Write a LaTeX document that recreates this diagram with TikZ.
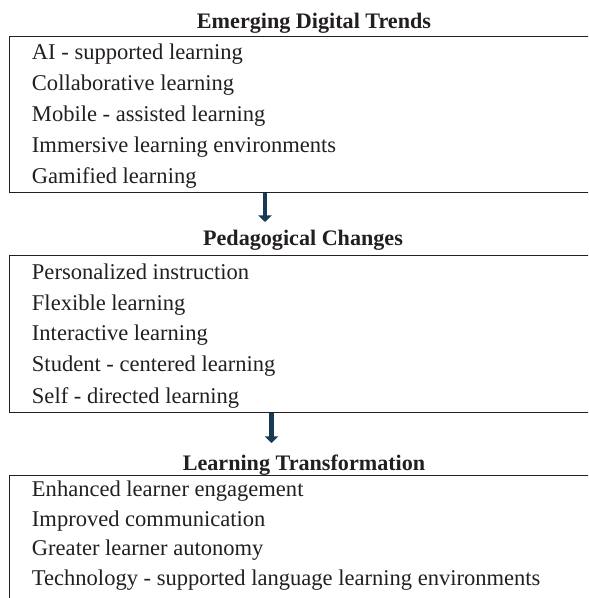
\documentclass[tikz,border=0pt]{standalone}
\usepackage{fontspec}
\setmainfont{Liberation Serif}
\usetikzlibrary{arrows.meta}
\definecolor{inkc}{HTML}{231F20}
\definecolor{navy}{HTML}{173A55}
\tikzset{
  boxline/.style={draw=inkc, line width=0.95pt},
  itemtxt/.style={anchor=base west, inner sep=0pt, text=inkc, font=\fontsize{16.9}{20}\selectfont},
  titletxt/.style={anchor=base, inner sep=0pt, text=inkc, font=\fontsize{16.6}{20}\selectfont\bfseries},
  blockarrow/.style={draw=navy, line width=3.6pt, -{Triangle[width=10pt,length=5pt]}},
}
\begin{document}
\begin{tikzpicture}[x=0.75pt,y=-0.75pt]
\clip (0,0) rectangle (588,598);
\fill[white] (0,0) rectangle (588,598);

% Box 1
\node[titletxt] (t1) at (314,28.3) {Emerging Digital Trends};
\draw[boxline] (620,36.7) -- (9.3,36.7) -- (9.3,192.3) -- (620,192.3);
\node[itemtxt] (b1a) at (31.7,60) {AI - supported learning};
\node[itemtxt] (b1b) at (31.7,90.8) {Collaborative learning};
\node[itemtxt] (b1c) at (31.7,121.6) {Mobile - assisted learning};
\node[itemtxt] (b1d) at (31.7,152.4) {Immersive learning environments};
\node[itemtxt] (b1e) at (31.7,183.2) {Gamified learning};

% Arrow 1
\coordinate (a1s) at (265,192.8);
\coordinate (a1e) at (265,222);
\draw[blockarrow] (a1s) -- (a1e);

% Box 2
\node[titletxt] (t2) at (303,245.7) {Pedagogical Changes};
\draw[boxline] (620,255.7) -- (9.3,255.7) -- (9.3,412.3) -- (620,412.3);
\node[itemtxt] (b2a) at (31.7,279) {Personalized instruction};
\node[itemtxt] (b2b) at (31.7,310) {Flexible learning};
\node[itemtxt] (b2c) at (31.7,340.8) {Interactive learning};
\node[itemtxt] (b2d) at (31.7,371.8) {Student - centered learning};
\node[itemtxt] (b2e) at (31.7,403.2) {Self - directed learning};

% Arrow 2
\coordinate (a2s) at (271.5,412.8);
\coordinate (a2e) at (271.5,443);
\draw[blockarrow] (a2s) -- (a2e);

% Box 3
\node[titletxt] (t3) at (304,470) {Learning Transformation};
\draw[boxline] (620,475.7) -- (9.3,475.7) -- (9.3,620);
\node[itemtxt] (b3a) at (31.7,496.7) {Enhanced learner engagement};
\node[itemtxt] (b3b) at (31.7,526) {Improved communication};
\node[itemtxt] (b3c) at (31.7,555.4) {Greater learner autonomy};
\node[itemtxt] (b3d) at (31.7,585) {Technology - supported language learning environments};
\end{tikzpicture}
\end{document}
